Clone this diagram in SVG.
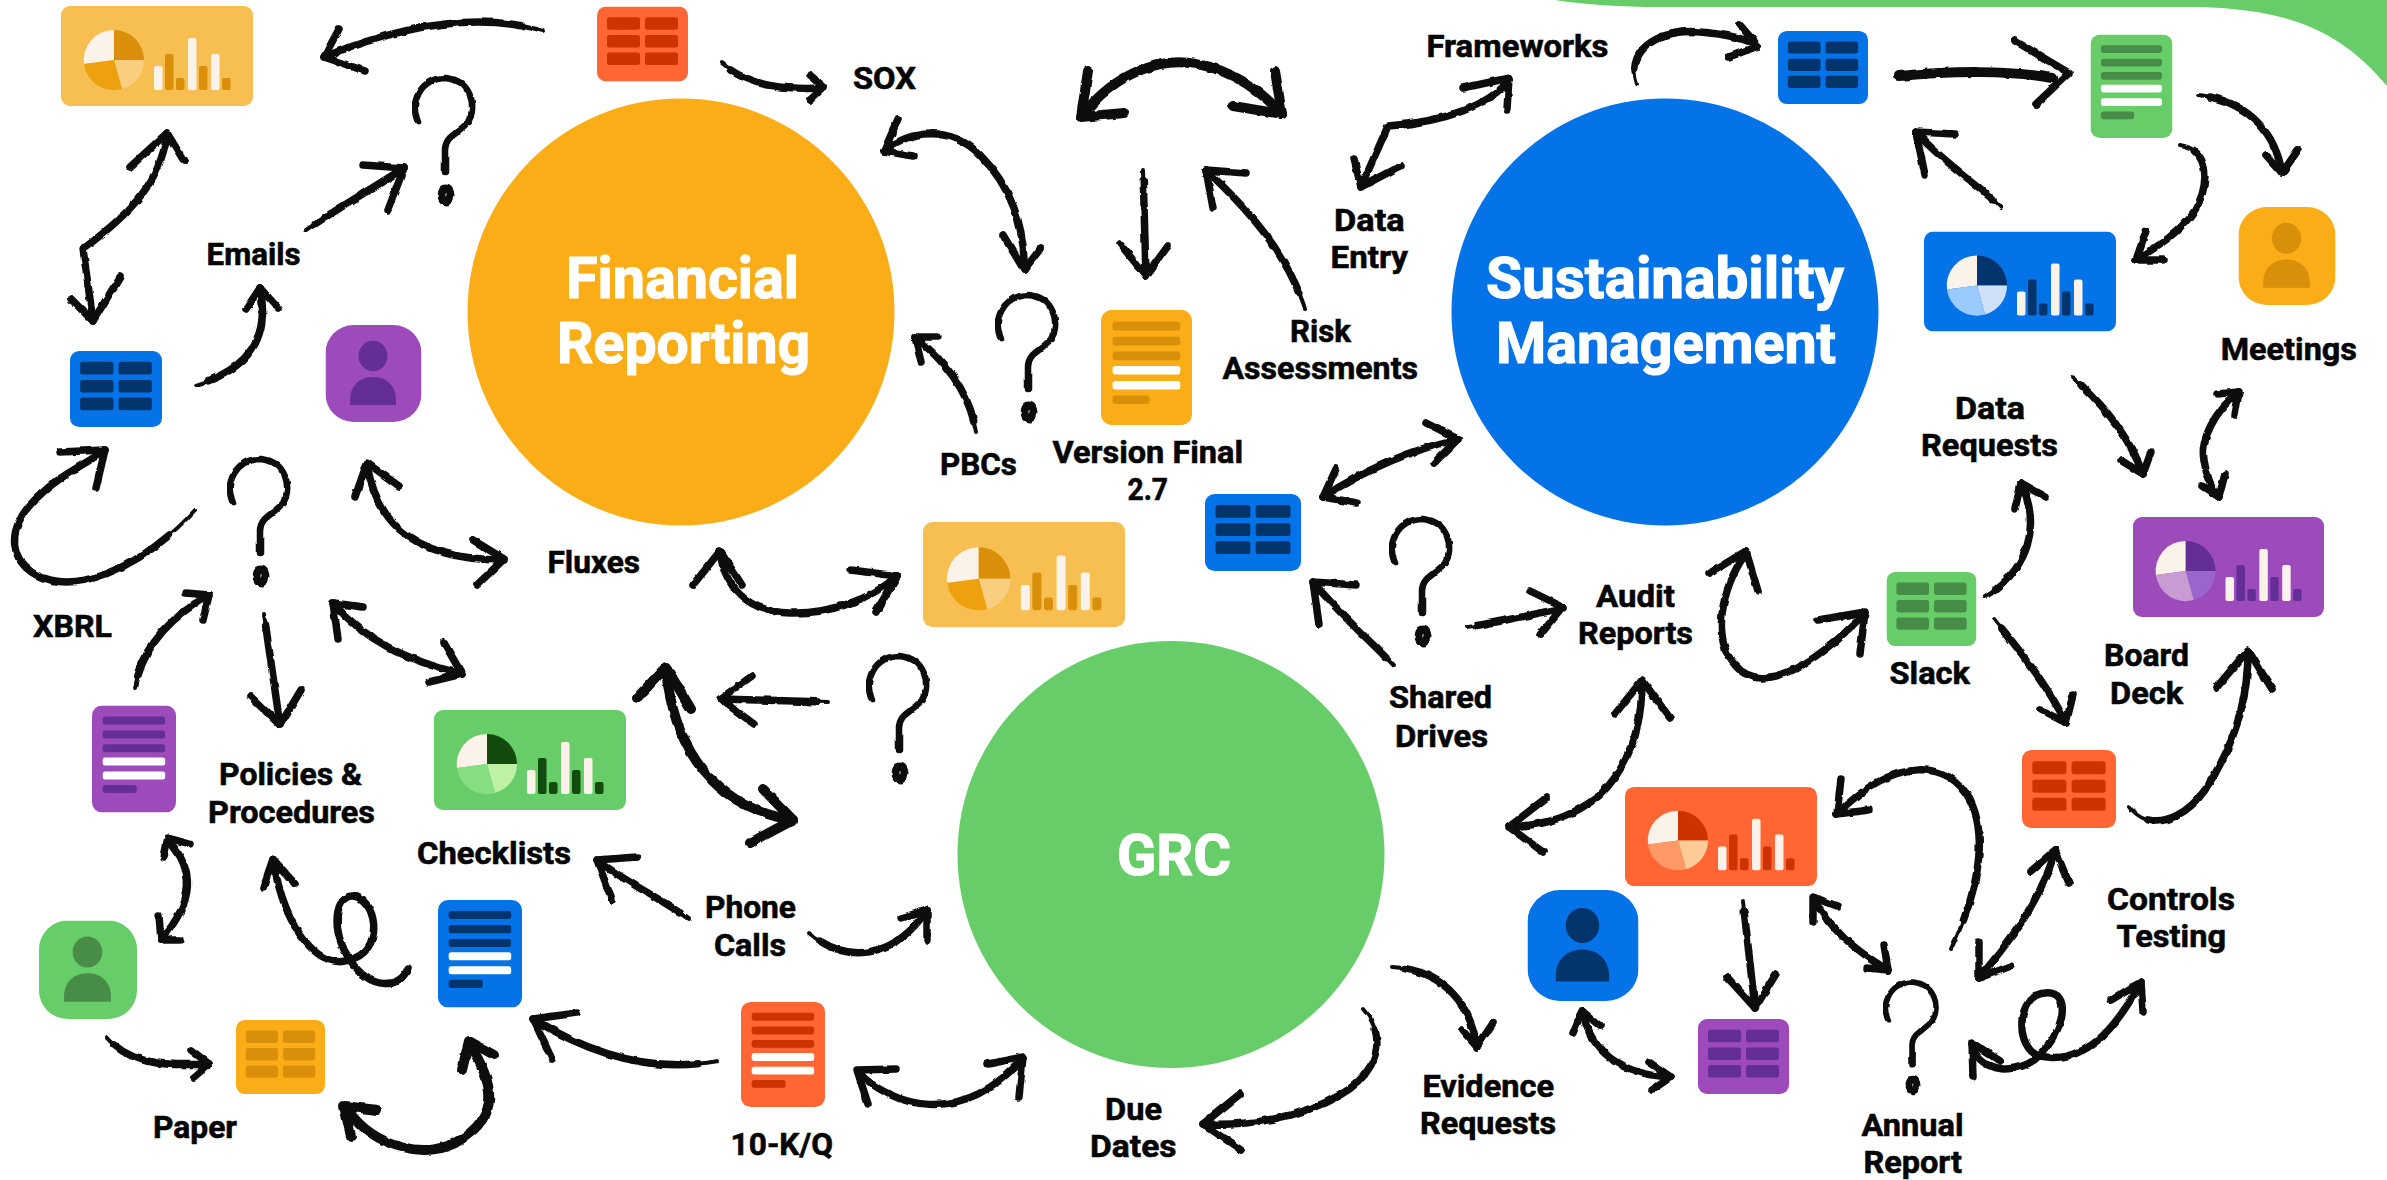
<svg xmlns="http://www.w3.org/2000/svg" width="2387" height="1180" viewBox="0 0 2387 1180">
<style>
text{font-family:Roboto,"Liberation Sans",sans-serif;font-weight:700;fill:#050505;font-size:32px;stroke:#050505;stroke-width:.6}
.big{font-size:58px;fill:#fff;stroke:#fff;stroke-width:1.2}
.y{--bg:#FBAD18;--d:#D88F0A;--lr:#FACE80;--ll:#EDA10F}
.yl{--bg:#F7BE52;--d:#D98F0A;--lr:#FACE80;--ll:#EDA10F}
.b{--bg:#0473E8;--d:#03346B;--lr:#CFE0F8;--ll:#9BCBFE}
.g{--bg:#67CD69;--d:#478D47;--lr:#BEF0A6;--ll:#86DE83}
.gd{--bg:#67CD69;--d:#134B0F;--lr:#BEF0A6;--ll:#86DE83}
.o{--bg:#FF6633;--d:#CC3300;--lr:#FFCC99;--ll:#FF9966}
.p{--bg:#9D4BBA;--d:#632F96;--lr:#9B65CE;--ll:#C89BD2}
.bg{fill:var(--bg)}.dk{fill:var(--d)}.lr{fill:var(--lr)}.ll{fill:var(--ll)}.cr{fill:#FBF3E9}.wh{fill:#fff}
#connectors path,.q path{fill:none;stroke:#111;stroke-linecap:round;stroke-linejoin:round}
#connectors{filter:url(#rough)}
#connectors .th{stroke-width:4}
#connectors .bd{stroke-width:7.5}
#connectors .tp{stroke-width:7.5;stroke-dasharray:90 100;stroke-dashoffset:-10}
#connectors .hd{stroke-width:7.5}
#connectors .fat{stroke-width:10}
.q{filter:url(#rough)}
.q path{stroke-width:6.5}
.q ellipse{fill:none;stroke:#111;stroke-width:8}
</style>
<defs>
<filter id="rough" x="-5%" y="-5%" width="110%" height="110%">
<feTurbulence type="fractalNoise" baseFrequency="0.09" numOctaves="2" seed="4" result="n"/>
<feDisplacementMap in="SourceGraphic" in2="n" scale="3.5" xChannelSelector="R" yChannelSelector="G"/>
</filter>
<symbol id="dash" viewBox="0 0 192 100" preserveAspectRatio="none">
<rect class="bg" width="192" height="100" rx="9"/>
<path class="cr" d="M53 54V24A30 30 0 0 0 23 58Z"/>
<path class="dk" d="M53 54V24A30 30 0 0 1 83 54Z"/>
<path class="lr" d="M53 54H83A30 30 0 0 1 61 83Z"/>
<path class="ll" d="M53 54L61 83A30 30 0 0 1 23 58Z"/>
<rect class="cr" x="93" y="60" width="8.5" height="24" rx="2"/>
<rect class="dk" x="104" y="48" width="8.5" height="36" rx="2"/>
<rect class="dk" x="115" y="72" width="8.5" height="12" rx="2"/>
<rect class="cr" x="127" y="32" width="8.5" height="52" rx="2"/>
<rect class="dk" x="138" y="60" width="8.5" height="24" rx="2"/>
<rect class="cr" x="150" y="48" width="8.5" height="36" rx="2"/>
<rect class="dk" x="161" y="72" width="8.5" height="12" rx="2"/>
</symbol>
<symbol id="table" viewBox="0 0 91 75" preserveAspectRatio="none">
<rect class="bg" width="91" height="75" rx="9"/>
<rect class="dk" x="10" y="10.7" width="33" height="12.5" rx="2.5"/><rect class="dk" x="48" y="10.7" width="33" height="12.5" rx="2.5"/>
<rect class="dk" x="10" y="28.5" width="33" height="12.5" rx="2.5"/><rect class="dk" x="48" y="28.5" width="33" height="12.5" rx="2.5"/>
<rect class="dk" x="10" y="46" width="33" height="12.5" rx="2.5"/><rect class="dk" x="48" y="46" width="33" height="12.5" rx="2.5"/>
</symbol>
<symbol id="doc" viewBox="0 0 84 107" preserveAspectRatio="none">
<rect class="bg" width="84" height="107" rx="10"/>
<rect class="dk" x="10.7" y="11" width="62.5" height="8" rx="2.5"/>
<rect class="dk" x="10.7" y="25" width="62.5" height="8" rx="2.5"/>
<rect class="dk" x="10.7" y="38.7" width="62.5" height="8" rx="2.5"/>
<rect class="wh" x="10.7" y="52" width="62.5" height="8" rx="2.5"/>
<rect class="wh" x="10.7" y="66" width="62.5" height="8" rx="2.5"/>
<rect class="dk" x="10.7" y="79.5" width="34" height="8" rx="2.5"/>
</symbol>
<symbol id="person" viewBox="0 0 96 97" preserveAspectRatio="none">
<rect class="bg" width="96" height="97" rx="28"/>
<ellipse class="dk" cx="47.5" cy="31" rx="14.5" ry="15.3"/>
<path class="dk" d="M24.5 80V75C24.5 60 35 52 47.5 52C60 52 70.5 60 70.5 75V80Z"/>
</symbol>
<g id="qm" class="q">
<path d="M6 44C-3 25 8 0 34 0C58 2 66 28 56 44C46 56 33 58 33 72L33 94"/>
<ellipse cx="34" cy="117" rx="4.5" ry="6.5"/>
</g>
</defs>

<path id="corner" fill="#67CD69" d="M1555 0Q1600 7 1660 7L2200 7C2290 10 2340 30 2387 86V0Z"/>

<g id="hub-financial"><circle cx="681" cy="312" r="213.5" fill="#FBAD18"/><text class="big" x="566" y="298" textLength="233" lengthAdjust="spacingAndGlyphs">Financial</text><text class="big" x="557" y="363" textLength="253" lengthAdjust="spacingAndGlyphs">Reporting</text></g>
<g id="hub-sustainability"><circle cx="1665" cy="312" r="213.5" fill="#0473E8"/><text class="big" x="1486" y="298" textLength="358" lengthAdjust="spacingAndGlyphs">Sustainability</text><text class="big" x="1496" y="363" textLength="340" lengthAdjust="spacingAndGlyphs">Management</text></g>
<g id="hub-grc"><circle cx="1171" cy="854.5" r="213.5" fill="#67CD69"/><text class="big" x="1117" y="875" textLength="114" lengthAdjust="spacingAndGlyphs">GRC</text></g>

<g id="dash-1" class="yl"><use href="#dash" x="61" y="6" width="192" height="100"/></g>
<g id="dash-2" class="yl"><use href="#dash" x="923" y="522" width="202" height="105"/></g>
<g id="dash-3" class="b"><use href="#dash" x="1924" y="231.5" width="192" height="100"/></g>
<g id="dash-4" class="p"><use href="#dash" x="2133" y="517" width="191" height="100"/></g>
<g id="dash-5" class="gd"><use href="#dash" x="434" y="710" width="192" height="100"/></g>
<g id="dash-6" class="o"><use href="#dash" x="1625" y="787" width="192" height="99"/></g>

<g id="table-1" class="o"><use href="#table" x="597" y="6.5" width="91" height="75"/></g>
<g id="table-2" class="b"><use href="#table" x="70" y="351" width="92" height="76"/></g>
<g id="table-3" class="b"><use href="#table" x="1205" y="494" width="96" height="77"/></g>
<g id="table-4" class="b"><use href="#table" x="1778" y="31" width="90" height="73"/></g>
<g id="table-5" class="g"><use href="#table" x="1886.5" y="572" width="90" height="74"/></g>
<g id="table-6" class="o"><use href="#table" x="2022" y="750" width="94" height="78"/></g>
<g id="table-7" class="p"><use href="#table" x="1698" y="1019" width="91" height="75"/></g>
<g id="table-8" class="y"><use href="#table" x="236" y="1020" width="89" height="74"/></g>

<g id="doc-1" class="y"><use href="#doc" x="1101" y="310" width="91" height="115"/></g>
<g id="doc-2" class="g"><use href="#doc" x="2090.5" y="34.5" width="82" height="103.5"/></g>
<g id="doc-3" class="p"><use href="#doc" x="92" y="705.5" width="84" height="107"/></g>
<g id="doc-4" class="b"><use href="#doc" x="438" y="900" width="84" height="107.5"/></g>
<g id="doc-5" class="o"><use href="#doc" x="741" y="1002" width="84" height="105"/></g>

<g id="person-1" class="p"><use href="#person" x="325.5" y="325" width="96" height="97"/></g>
<g id="person-2" class="y"><use href="#person" x="2238.5" y="207" width="97" height="98"/></g>
<g id="person-3" class="g"><use href="#person" x="39" y="920.6" width="98" height="98.4"/></g>
<g id="person-4" class="b"><use href="#person" x="1527.5" y="890" width="111" height="111"/></g>

<g id="question-1"><use href="#qm" x="412" y="78"/></g>
<g id="question-2"><use href="#qm" x="227" y="459"/></g>
<g id="question-3"><use href="#qm" x="995" y="295"/></g>
<g id="question-4"><use href="#qm" x="866" y="656"/></g>
<g id="question-5"><use href="#qm" x="1389" y="519"/></g>
<g id="question-6"><use href="#qm" transform="translate(1883 982) scale(.88)"/></g>

<g id="connectors">
<g><path class="th" d="M543 31C500 18 430 14 324 57"/><path class="tp" pathLength="100" d="M543 31C500 18 430 14 324 57"/><path class="hd" d="M339 29L324 57L365 71"/></g>
<g><path class="th" d="M722 63C745 85 780 90 824 88"/><path class="tp" pathLength="100" d="M722 63C745 85 780 90 824 88"/><path class="hd" d="M810 75L824 87L810 100"/></g>
<g><path class="bd" d="M884 151C910 130 950 125 980 155C1010 185 1025 225 1024 270"/><path class="hd" d="M898 119L884 151L913 156M1003 235L1024 270L1041 248"/></g>
<g><path class="th" d="M976 432C970 395 950 365 915 337"/><path class="tp" pathLength="100" d="M976 432C970 395 950 365 915 337"/><path class="hd" d="M938 337L915 337L921 362"/></g>
<g><path class="fat" d="M1081 117C1120 65 1170 60 1190 63C1230 68 1260 90 1282 114"/><path class="fat" d="M1088 71L1081 117L1124 113M1275 71L1282 114L1233 106"/></g>
<g><path class="th" d="M1143 170L1146 276"/><path class="tp" pathLength="100" d="M1143 170L1146 276"/><path class="hd" d="M1120 244L1146 276L1168 246"/></g>
<g><path class="th" d="M1305 308C1290 265 1265 225 1206 170"/><path class="tp" pathLength="100" d="M1305 308C1290 265 1265 225 1206 170"/><path class="hd" d="M1246 173L1206 170L1213 208"/></g>
<g><path class="bd" d="M1509 80C1490 105 1445 122 1388 126L1361 187"/><path class="hd" d="M1463 88L1509 78L1507 109M1354 159L1361 187L1401 166"/></g>
<g><path class="th" d="M1637 84C1625 50 1660 28 1700 32C1725 34 1745 38 1758 46"/><path class="tp" pathLength="100" d="M1637 84C1625 50 1660 28 1700 32C1725 34 1745 38 1758 46"/><path class="hd" d="M1739 24L1758 46L1729 57"/></g>
<g><path class="fat" d="M1899 76C1950 71 2010 70 2052 78"/><path class="hd" d="M2015 41L2069 73L2036 104"/></g>
<g><path class="th" d="M2198 95C2245 100 2275 130 2282 173"/><path class="tp" pathLength="100" d="M2198 95C2245 100 2275 130 2282 173"/><path class="hd" d="M2266 155L2282 173L2298 150"/></g>
<g><path class="th" d="M2180 145C2210 150 2210 185 2195 210C2180 232 2160 245 2136 260"/><path class="tp" pathLength="100" d="M2180 145C2210 150 2210 185 2195 210C2180 232 2160 245 2136 260"/><path class="hd" d="M2146 231L2136 260L2163 260"/></g>
<g><path class="th" d="M2001 208C1975 180 1945 165 1916 132"/><path class="tp" pathLength="100" d="M2001 208C1975 180 1945 165 1916 132"/><path class="hd" d="M1955 134L1916 132L1925 175"/></g>
<g><path class="th" d="M2072 377C2105 405 2130 440 2143 474"/><path class="tp" pathLength="100" d="M2072 377C2105 405 2130 440 2143 474"/><path class="hd" d="M2122 461L2143 474L2151 452"/></g>
<g><path class="bd" d="M2239 392C2215 410 2200 440 2204 460C2206 475 2212 490 2219 497"/><path class="hd" d="M2217 394L2239 392L2235 415M2202 486L2219 497L2225 474"/></g>
<g><path class="th" d="M1985 597C2020 575 2045 535 2021 483"/><path class="tp" pathLength="100" d="M1985 597C2020 575 2045 535 2021 483"/><path class="hd" d="M2015 509L2021 483L2046 497"/></g>
<g><path class="th" d="M1994 619C2020 650 2050 690 2066 723"/><path class="tp" pathLength="100" d="M1994 619C2020 650 2050 690 2066 723"/><path class="hd" d="M2041 710L2066 723L2073 695"/></g>
<g><path class="bd" d="M1746 553C1720 590 1712 640 1735 665C1760 695 1810 670 1865 613"/><path class="hd" d="M1710 573L1746 551L1758 591M1818 620L1865 612L1860 654"/></g>
<g><path class="th" d="M1467 627C1500 622 1530 615 1563 608"/><path class="tp" pathLength="100" d="M1467 627C1500 622 1530 615 1563 608"/><path class="hd" d="M1530 591L1563 607L1540 635"/></g>
<g><path class="th" d="M1394 666C1370 640 1345 620 1313 582"/><path class="tp" pathLength="100" d="M1394 666C1370 640 1345 620 1313 582"/><path class="hd" d="M1356 585L1313 582L1319 624"/></g>
<g><path class="bd" d="M1458 439C1410 450 1365 470 1323 497"/><path class="hd" d="M1426 423L1458 439L1434 463M1336 469L1323 497L1357 503"/></g>
<g><path class="bd" d="M720 553C725 585 745 612 790 613C830 614 870 600 897 576"/><path class="hd" d="M693 585L720 551L742 585M851 570L897 576L876 612"/></g>
<g><path class="bd" d="M367 465C375 510 400 560 504 560"/><path class="hd" d="M355 497L367 463L399 486M473 540L504 559L477 585"/></g>
<g><path class="th" d="M195 510C150 560 90 590 50 580C10 570 0 530 40 495C60 475 85 465 105 450"/><path class="tp" pathLength="100" d="M195 510C150 560 90 590 50 580C10 570 0 530 40 495C60 475 85 465 105 450"/><path class="hd" d="M60 452L105 450L96 488"/></g>
<g><path class="th" d="M196 385C240 372 272 345 260 288"/><path class="tp" pathLength="100" d="M196 385C240 372 272 345 260 288"/><path class="hd" d="M246 309L260 288L278 308"/></g>
<g><path class="th" d="M306 230C335 210 370 190 404 168"/><path class="tp" pathLength="100" d="M306 230C335 210 370 190 404 168"/><path class="hd" d="M363 165L404 168L388 210"/></g>
<g><path class="bd" d="M167 135C160 180 135 210 83 249L93 321"/><path class="hd" d="M130 167L167 133L184 161M71 299L93 321L120 277"/></g>
<g><path class="th" d="M135 688C142 650 165 620 209 595"/><path class="tp" pathLength="100" d="M135 688C142 650 165 620 209 595"/><path class="hd" d="M186 593L209 595L203 620"/></g>
<g><path class="th" d="M264 614L280 725"/><path class="tp" pathLength="100" d="M264 614L280 725"/><path class="hd" d="M250 696L280 725L301 690"/></g>
<g><path class="bd" d="M333 603C365 640 405 660 462 674"/><path class="hd" d="M363 607L333 603L338 639M444 643L462 674L429 682"/></g>
<g><path class="th" d="M828 702L720 699"/><path class="tp" pathLength="100" d="M828 702L720 699"/><path class="hd" d="M752 676L720 699L754 724"/></g>
<g><path class="fat" d="M666 670C672 730 700 805 793 820"/><path class="fat" d="M637 698L666 667L691 709M763 789L793 820L750 843"/></g>
<g><path class="th" d="M689 919C660 898 630 885 597 860"/><path class="tp" pathLength="100" d="M689 919C660 898 630 885 597 860"/><path class="hd" d="M637 857L597 860L612 900"/></g>
<g><path class="th" d="M809 933C840 960 890 965 927 910"/><path class="tp" pathLength="100" d="M809 933C840 960 890 965 927 910"/><path class="hd" d="M901 918L927 910L927 940"/></g>
<g><path class="bd" d="M408 968C400 990 370 990 350 960C330 930 335 895 353 896C375 898 385 945 355 958C320 975 285 930 273 860"/><path class="hd" d="M263 888L273 859L295 884"/></g>
<g><path class="bd" d="M168 840C195 870 195 900 161 940"/><path class="hd" d="M164 857L168 838L190 844M159 916L161 940L180 940"/></g>
<g><path class="th" d="M106 1037C130 1065 165 1066 209 1064"/><path class="tp" pathLength="100" d="M106 1037C130 1065 165 1066 209 1064"/><path class="hd" d="M191 1050L209 1064L194 1077"/></g>
<g><path class="fat" d="M346 1108C375 1150 430 1160 460 1140C500 1115 495 1085 469 1043"/><path class="fat" d="M377 1110L344 1106L351 1136M462 1070L469 1041L494 1055"/></g>
<g><path class="th" d="M717 1061C660 1072 600 1060 533 1019"/><path class="tp" pathLength="100" d="M717 1061C660 1072 600 1060 533 1019"/><path class="hd" d="M577 1013L533 1019L552 1059"/></g>
<g><path class="bd" d="M858 1072C890 1105 960 1130 1023 1058"/><path class="hd" d="M896 1069L857 1070L868 1104M988 1064L1023 1057L1019 1097"/></g>
<g><path class="th" d="M1363 1009C1390 1040 1375 1075 1340 1095C1300 1118 1250 1126 1203 1124"/><path class="tp" pathLength="100" d="M1363 1009C1390 1040 1375 1075 1340 1095C1300 1118 1250 1126 1203 1124"/><path class="hd" d="M1240 1094L1203 1124L1241 1150"/></g>
<g><path class="th" d="M1392 967C1440 970 1470 1000 1477 1047"/><path class="tp" pathLength="100" d="M1392 967C1440 970 1470 1000 1477 1047"/><path class="hd" d="M1462 1030L1477 1047L1493 1023"/></g>
<g><path class="bd" d="M1583 1013C1590 1050 1620 1075 1671 1077"/><path class="hd" d="M1573 1033L1582 1011L1600 1026M1649 1062L1671 1077L1652 1090"/></g>
<g><path class="th" d="M1743 901L1755 1008"/><path class="tp" pathLength="100" d="M1743 901L1755 1008"/><path class="hd" d="M1727 977L1755 1008L1776 974"/></g>
<g><path class="bd" d="M1815 899C1830 930 1855 950 1888 970"/><path class="hd" d="M1837 906L1813 897L1813 922M1884 945L1888 970L1867 968"/></g>
<g><path class="th" d="M1951 949C1975 900 1990 840 1970 800C1950 760 1895 755 1837 814"/><path class="tp" pathLength="100" d="M1951 949C1975 900 1990 840 1970 800C1950 760 1895 755 1837 814"/><path class="hd" d="M1841 779L1837 814L1869 810"/></g>
<g><path class="bd" d="M2055 852C2040 900 2015 935 1979 978"/><path class="hd" d="M2031 871L2055 850L2069 883M1979 942L1979 978L2011 966"/></g>
<g><path class="th" d="M2129 806C2145 830 2180 825 2205 790C2235 745 2248 700 2248 652"/><path class="tp" pathLength="100" d="M2129 806C2145 830 2180 825 2205 790C2235 745 2248 700 2248 652"/><path class="hd" d="M2217 687L2248 650L2272 689"/></g>
<g><path class="bd" d="M1972 1045C1980 1075 2020 1075 2040 1055C2065 1030 2072 990 2045 993C2015 995 2015 1050 2040 1056C2085 1065 2115 1030 2141 982"/><path class="hd" d="M1973 1077L1972 1043L2000 1061M2111 1000L2141 982L2143 1012"/></g>
<g><path class="bd" d="M1642 682C1642 735 1625 770 1600 795C1575 815 1550 825 1509 827"/><path class="hd" d="M1615 714L1642 680L1670 718M1546 798L1509 827L1543 852"/></g>
</g>

<g id="labels">
<text x="206.6" y="265" textLength="94" lengthAdjust="spacingAndGlyphs">Emails</text>
<text x="853" y="89" textLength="63" lengthAdjust="spacingAndGlyphs">SOX</text>
<text x="1426.5" y="56.6" textLength="182" lengthAdjust="spacingAndGlyphs">Frameworks</text>
<text x="1334" y="231" textLength="70.6" lengthAdjust="spacingAndGlyphs">Data</text>
<text x="1330.6" y="268" textLength="77.4" lengthAdjust="spacingAndGlyphs">Entry</text>
<text x="1290" y="342" textLength="61" lengthAdjust="spacingAndGlyphs">Risk</text>
<text x="1222.5" y="379" textLength="195.5" lengthAdjust="spacingAndGlyphs">Assessments</text>
<text x="940" y="474.5" textLength="77" lengthAdjust="spacingAndGlyphs">PBCs</text>
<text x="1052.5" y="463" textLength="190.5" lengthAdjust="spacingAndGlyphs">Version Final</text>
<text x="1127.5" y="499.5" textLength="40.5" lengthAdjust="spacingAndGlyphs">2.7</text>
<text x="547.5" y="573" textLength="92.5" lengthAdjust="spacingAndGlyphs">Fluxes</text>
<text x="2220.7" y="360" textLength="136.3" lengthAdjust="spacingAndGlyphs">Meetings</text>
<text x="1955" y="419" textLength="70" lengthAdjust="spacingAndGlyphs">Data</text>
<text x="1921" y="456" textLength="137" lengthAdjust="spacingAndGlyphs">Requests</text>
<text x="1596" y="607" textLength="79" lengthAdjust="spacingAndGlyphs">Audit</text>
<text x="1578" y="644" textLength="115" lengthAdjust="spacingAndGlyphs">Reports</text>
<text x="1889.5" y="684" textLength="80.5" lengthAdjust="spacingAndGlyphs">Slack</text>
<text x="2104" y="666" textLength="85" lengthAdjust="spacingAndGlyphs">Board</text>
<text x="2110" y="703.6" textLength="73" lengthAdjust="spacingAndGlyphs">Deck</text>
<text x="2107" y="910" textLength="128" lengthAdjust="spacingAndGlyphs">Controls</text>
<text x="2116.6" y="947" textLength="109.4" lengthAdjust="spacingAndGlyphs">Testing</text>
<text x="1861.5" y="1135.7" textLength="102" lengthAdjust="spacingAndGlyphs">Annual</text>
<text x="1863.5" y="1173" textLength="98.5" lengthAdjust="spacingAndGlyphs">Report</text>
<text x="1422.4" y="1096.6" textLength="131.6" lengthAdjust="spacingAndGlyphs">Evidence</text>
<text x="1420" y="1134" textLength="136" lengthAdjust="spacingAndGlyphs">Requests</text>
<text x="1105" y="1119.6" textLength="57" lengthAdjust="spacingAndGlyphs">Due</text>
<text x="1090" y="1157" textLength="86.5" lengthAdjust="spacingAndGlyphs">Dates</text>
<text x="730.6" y="1155" textLength="102.4" lengthAdjust="spacingAndGlyphs">10-K/Q</text>
<text x="705" y="917.5" textLength="91" lengthAdjust="spacingAndGlyphs">Phone</text>
<text x="714" y="956" textLength="72" lengthAdjust="spacingAndGlyphs">Calls</text>
<text x="1389" y="708" textLength="103" lengthAdjust="spacingAndGlyphs">Shared</text>
<text x="1395" y="746.5" textLength="93" lengthAdjust="spacingAndGlyphs">Drives</text>
<text x="153" y="1138" textLength="84" lengthAdjust="spacingAndGlyphs">Paper</text>
<text x="417" y="864" textLength="154" lengthAdjust="spacingAndGlyphs">Checklists</text>
<text x="219" y="785" textLength="143" lengthAdjust="spacingAndGlyphs">Policies &amp;</text>
<text x="208" y="823" textLength="167" lengthAdjust="spacingAndGlyphs">Procedures</text>
<text x="33" y="636.6" textLength="79" lengthAdjust="spacingAndGlyphs">XBRL</text>
</g>
</svg>
